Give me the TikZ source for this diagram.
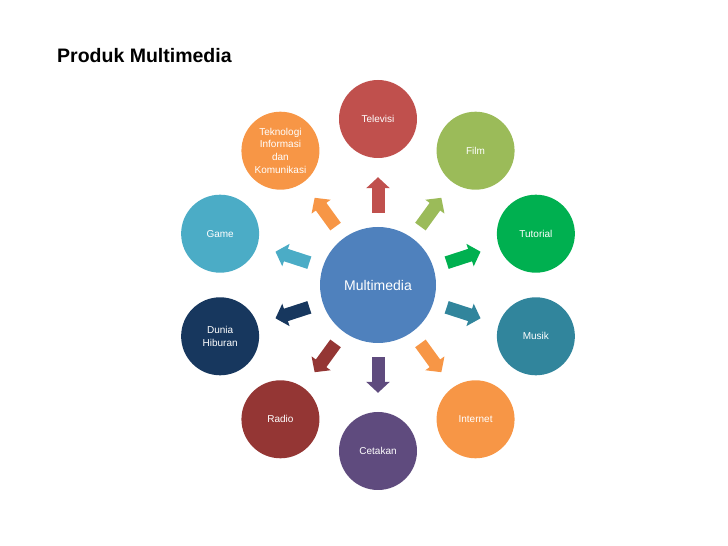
\documentclass[tikz,border=0pt]{standalone}
\usepackage{fontspec}
\setmainfont{Liberation Sans}
\usetikzlibrary{arrows.meta, positioning, calc}
\definecolor{hubblue}{HTML}{4F81BD}
\definecolor{tvred}{HTML}{C0504D}
\definecolor{filmgreen}{HTML}{9BBB59}
\definecolor{tutgreen}{HTML}{00B050}
\definecolor{musikteal}{HTML}{31859C}
\definecolor{netorange}{HTML}{F79646}
\definecolor{cetakpurple}{HTML}{5F4B7E}
\definecolor{radiored}{HTML}{943634}
\definecolor{duniablue}{HTML}{17375E}
\definecolor{gameblue}{HTML}{4BACC6}
\definecolor{tikorange}{HTML}{F79646}

\begin{document}
\begin{tikzpicture}[
    x=1pt, y=1pt,
    hub/.style={circle, fill=hubblue, minimum size=116pt, inner sep=0pt, text=white, font=\fontsize{14}{16}\selectfont},
    sat/.style={circle, minimum size=78pt, inner sep=0pt, text=white, align=center, font=\fontsize{10}{12.8}\selectfont},
    flow/.style={line width=13pt, -{Triangle[width=23pt, length=11pt]}, shorten <=14pt, shorten >=19pt}
]
    \useasboundingbox (0,0) rectangle (728,546);

    \node[anchor=base west, inner sep=0pt, font=\bfseries\fontsize{19.5}{23}\selectfont] (title) at (57,483) {Produk Multimedia};

    \node[hub] (mm) at (378,261) {Multimedia};

    \node[sat, fill=tvred] (tv) at ($(mm)+(90:166)$) {Televisi};
    \node[sat, fill=filmgreen] (film) at ($(mm)+(54:166)$) {Film};
    \node[sat, fill=tutgreen] (tut) at ($(mm)+(18:166)$) {Tutorial};
    \node[sat, fill=musikteal] (musik) at ($(mm)+(-18:166)$) {Musik};
    \node[sat, fill=netorange] (net) at ($(mm)+(-54:166)$) {Internet};
    \node[sat, fill=cetakpurple] (cetak) at ($(mm)+(-90:166)$) {Cetakan};
    \node[sat, fill=radiored] (radio) at ($(mm)+(-126:166)$) {Radio};
    \node[sat, fill=duniablue] (dunia) at ($(mm)+(-162:166)$) {Dunia\\Hiburan};
    \node[sat, fill=gameblue] (game) at ($(mm)+(162:166)$) {Game};
    \node[sat, fill=tikorange] (tik) at ($(mm)+(126:166)$) {Teknologi\\Informasi\\dan\\Komunikasi};

    \draw[flow, tvred] (mm) -- (tv);
    \draw[flow, filmgreen] (mm) -- (film);
    \draw[flow, tutgreen] (mm) -- (tut);
    \draw[flow, musikteal] (mm) -- (musik);
    \draw[flow, netorange] (mm) -- (net);
    \draw[flow, cetakpurple] (mm) -- (cetak);
    \draw[flow, radiored] (mm) -- (radio);
    \draw[flow, duniablue] (mm) -- (dunia);
    \draw[flow, gameblue] (mm) -- (game);
    \draw[flow, tikorange] (mm) -- (tik);

\end{tikzpicture}
\end{document}
